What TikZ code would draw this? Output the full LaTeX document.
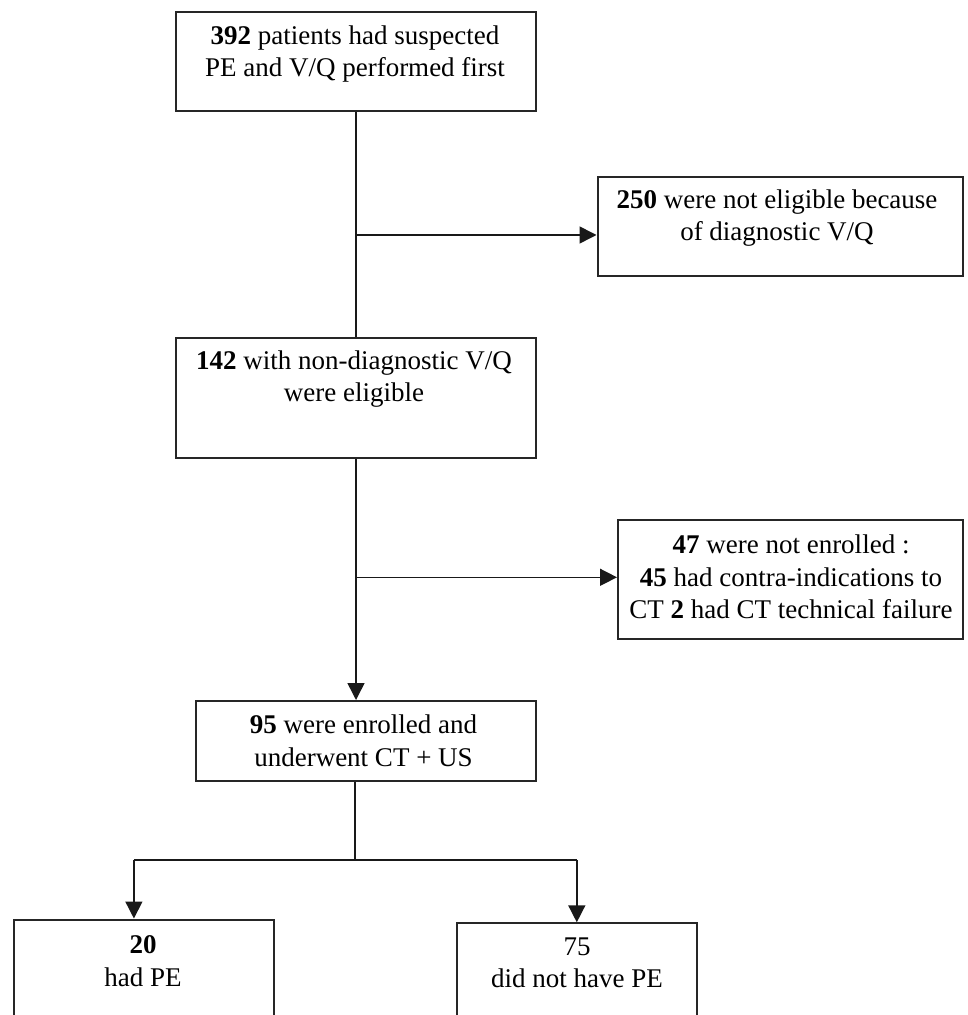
\documentclass[tikz,border=0pt]{standalone}
\usepackage{fontspec}
\setmainfont{Liberation Serif}
\usetikzlibrary{arrows.meta}
\begin{document}
\begin{tikzpicture}[x=0.5pt,y=-0.5pt,
  box/.style={draw=black!85,line width=1pt,rectangle,inner sep=0pt,anchor=north west},
  txt/.style={align=center,inner sep=0pt,font=\fontsize{13.5pt}{16.25pt}\selectfont},
  conn/.style={draw=black!90,line width=0.75pt},
  arr/.style={conn,-{Triangle[length=8.5pt,width=8.5pt]}}]
\useasboundingbox (0,0) rectangle (967,1015);
\clip (0,0) rectangle (967,1015);
\fill[white] (0,0) rectangle (967,1015);
% boxes
\node[box,minimum width=180pt,minimum height=49.5pt] (b1) at (175,11) {};
\node[box,minimum width=182.75pt,minimum height=49.5pt] (b2) at (596.5,176) {};
\node[box,minimum width=180pt,minimum height=59.75pt] (b3) at (175,337.5) {};
\node[box,minimum width=172.5pt,minimum height=59.5pt] (b4) at (617,519) {};
\node[box,minimum width=170.25pt,minimum height=39.75pt] (b5) at (194.5,700) {};
\node[box,minimum width=130.4pt,minimum height=60pt] (b6) at (12.5,918.5) {};
\node[box,minimum width=120pt,minimum height=60pt] (b7) at (456,922.3) {};
% texts
\node[txt] (t1) at (355,54) {\textbf{392} patients had suspected\\PE and V/Q performed first};
\node[txt] (t2) at (777,218) {\textbf{250} were not eligible because\\of diagnostic V/Q};
\node[txt] (t3) at (354,379) {\textbf{142} with non-diagnostic V/Q\\were eligible};
\node[txt] (t4) at (791,577) {\textbf{47} were not enrolled :\\\textbf{45} had contra-indications to\\CT \textbf{2} had CT technical failure};
\node[txt] (t5) at (363.5,741) {\textbf{95} were enrolled and\\underwent CT + US};
\node[txt] (t6) at (143,961) {\textbf{20}\\had PE};
\node[txt] (t7) at (577,963) {75\\did not have PE};
% junctions
\coordinate (j1) at (355,235);
\coordinate (j2) at (355,577.3);
\coordinate (j3) at (355,860);
\coordinate (a6) at (133.9,860);
\coordinate (a7) at (576.8,860);
% connectors
\draw[conn] (b1.south) -- (b3.north);
\draw[arr] (j1) -- (j1 -| b2.west);
\draw[arr] (b3.south) -- (b3.south |- b5.north);
\draw[arr] (j2) -- (j2 -| b4.west);
\draw[conn] (j3 |- b5.south) -- (j3);
\draw[conn] (a6) -- (a7);
\draw[arr] (a6) -- (a6 |- b6.north);
\draw[arr] (a7) -- (a7 |- b7.north);
\end{tikzpicture}
\end{document}
